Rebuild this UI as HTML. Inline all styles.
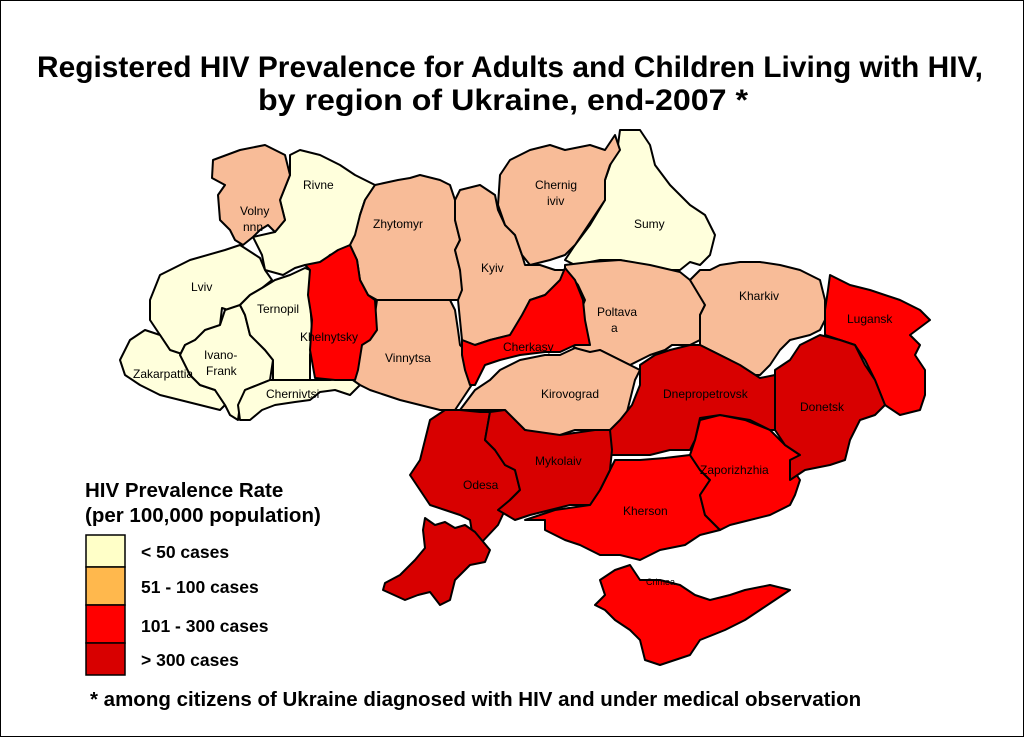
<!DOCTYPE html>
<html><head><meta charset="utf-8"><style>
html,body{margin:0;padding:0;background:#fff}
body{width:1024px;height:737px;overflow:hidden;position:relative;font-family:"Liberation Sans",Arial,sans-serif}
.frame{position:absolute;left:0;top:0;width:1022px;height:735px;border:1px solid #000}
svg{position:absolute;left:0;top:0}
</style></head><body>
<div class="frame"></div>
<svg width="1024" height="737" viewBox="0 0 1024 737" font-family="Liberation Sans, Arial, sans-serif">
<text x="510" y="77" text-anchor="middle" font-size="30" font-weight="bold" textLength="946" lengthAdjust="spacingAndGlyphs">Registered HIV Prevalence for Adults and Children Living with HIV,</text>
<text x="503" y="110" text-anchor="middle" font-size="30" font-weight="bold" textLength="490" lengthAdjust="spacingAndGlyphs">by region of Ukraine, end-2007 *</text>
<g stroke="#000" stroke-width="2" stroke-linejoin="round">
<g fill="#FFFFDC">
<polygon points="290,155 300,150 320,155 340,165 355,175 375,185 365,200 360,215 355,245 345,250 330,255 320,265 305,265 295,268 283,275 265,270 262,255 253,237 275,232 285,220 280,200 290,175"/>
<polygon points="150,300 160,275 190,260 225,250 240,245 260,258 265,270 272,280 262,288 250,295 240,305 228,310 222,308 220,325 210,330 195,340 185,345 180,355 170,350 160,335 150,320"/>
<polygon points="120,360 130,340 145,330 160,335 170,350 185,355 190,375 200,385 215,390 225,405 220,410 200,405 180,400 160,395 140,385 125,375"/>
<polygon points="185,345 195,340 205,330 220,325 225,310 240,305 245,315 250,335 265,350 273,360 270,380 245,390 240,405 238,420 230,415 225,405 215,390 200,385 190,375 180,355"/>
<polygon points="262,288 275,280 290,275 305,268 310,270 313,280 310,300 312,330 310,355 310,380 290,380 273,380 273,360 265,350 250,335 245,315 240,305 250,295"/>
<polygon points="273,380 310,380 330,380 350,378 360,385 350,395 335,390 320,392 310,400 295,402 275,405 262,410 250,420 240,420 238,405 245,390 270,380"/>
<polygon points="620,130 640,130 650,145 655,165 670,185 690,205 705,215 715,235 710,255 700,265 690,262 680,270 665,270 645,265 620,260 600,260 590,262 575,265 565,260 575,245 590,225 605,200 605,180 612,160 618,145"/>
</g>
<g fill="#F8BC98">
<polygon points="213,160 240,150 265,145 285,155 290,175 280,200 285,220 275,232 268,225 260,230 253,237 243,245 235,240 230,230 220,220 218,195 225,185 212,178"/>
<polygon points="360,215 365,200 375,185 398,180 410,178 420,175 440,180 450,185 455,200 455,220 460,240 455,250 460,270 465,285 462,300 450,300 440,305 425,300 405,300 385,305 377,300 368,295 360,280 357,260 350,245 355,235"/>
<polygon points="377,300 405,300 440,300 450,300 455,310 458,330 460,345 470,355 475,380 465,395 455,410 440,410 420,405 400,400 385,395 370,390 360,385 350,378 355,375 358,350 362,345 372,335"/>
<polygon points="455,200 460,190 480,185 495,195 498,210 505,225 515,235 522,255 525,265 540,265 555,270 565,270 560,285 545,295 530,300 520,320 510,335 490,340 475,345 462,340 460,320 458,300 462,290 460,270 455,250 460,240 455,220"/>
<polygon points="500,175 510,160 530,150 550,145 565,150 590,145 605,150 615,135 620,150 610,165 605,180 605,200 595,215 585,230 575,245 565,255 550,260 530,265 522,255 515,235 505,225 498,205"/>
<polygon points="565,265 590,262 620,260 650,265 680,272 690,280 700,295 705,305 700,315 700,340 690,345 672,345 665,350 650,355 640,360 630,365 610,355 600,350 590,355 570,345 575,325 585,300 578,285 570,275 565,268"/>
<polygon points="690,280 700,270 710,270 720,265 740,262 760,262 780,265 800,270 820,280 825,300 825,320 820,330 810,335 790,340 780,350 770,365 760,375 750,375 730,360 720,355 710,350 700,345 700,315 705,305"/>
<polygon points="460,410 475,390 490,380 500,370 520,360 545,355 560,355 575,348 590,352 600,350 610,355 630,365 640,370 635,380 630,400 625,420 610,430 590,430 575,430 560,435 545,435 525,430 505,410 480,410"/>
</g>
<g fill="#FF0000">
<polygon points="305,265 320,262 338,250 350,245 357,260 360,280 368,295 375,300 377,330 370,340 362,345 358,370 355,380 335,380 315,378 310,350 312,320 308,295 310,270"/>
<polygon points="462,340 475,345 490,340 510,335 522,315 530,300 545,295 560,280 565,268 575,280 583,300 585,320 590,345 575,345 560,352 545,352 520,355 500,360 485,365 475,385 470,385 465,370 462,355"/>
<polygon points="830,275 850,285 870,290 900,300 920,310 930,320 910,335 920,345 915,355 925,370 925,395 920,410 900,415 885,405 875,380 865,360 855,345 840,340 825,335 825,310 828,290"/>
<polygon points="555,510 590,505 600,490 615,460 640,460 665,458 690,455 700,470 710,480 700,495 705,515 720,530 700,535 685,545 660,550 640,560 620,555 600,555 580,545 565,540 545,530 545,520 525,520"/>
<polygon points="695,440 700,420 720,415 745,420 770,430 785,445 800,455 790,465 800,480 795,495 790,505 770,515 750,520 730,525 720,530 705,515 700,495 710,480 700,470 690,455"/>
<polygon points="600,580 615,570 630,565 640,580 660,580 680,585 695,595 710,600 730,595 745,590 770,585 790,590 775,600 760,610 745,620 725,630 700,640 690,655 675,660 660,665 645,660 640,640 630,630 615,620 605,610 595,605 605,595"/>
</g>
<g fill="#D80000">
<polygon points="775,370 790,360 800,345 820,335 840,340 855,345 865,365 875,380 885,405 875,415 860,420 850,440 845,460 830,465 805,470 790,480 790,460 800,455 785,445 775,430 775,400"/>
<polygon points="640,365 655,355 670,350 690,345 700,345 720,355 740,365 760,378 775,375 775,400 775,430 770,430 750,420 720,415 700,418 695,440 690,450 670,450 650,455 630,455 610,455 605,450 610,430 620,420 632,405 640,385"/>
<polygon points="430,420 445,410 460,410 480,412 490,412 485,440 495,450 505,465 515,470 520,490 510,500 505,510 498,525 482,542 472,532 470,520 460,515 445,510 430,505 420,490 410,475 420,460 425,440"/>
<polygon points="425,518 435,525 445,522 455,528 465,525 475,532 490,550 485,562 470,565 460,575 455,580 450,600 440,605 430,592 418,595 405,600 383,590 385,583 400,575 415,560 425,548 423,530"/>
<polygon points="490,412 505,410 525,430 560,435 595,430 610,430 612,450 610,470 600,490 590,505 570,505 550,510 530,515 515,520 498,510 510,500 520,490 515,470 505,465 495,450 485,440"/>
</g>
</g>
<g font-size="12" fill="#000">
<text x="240" y="215">Volny</text><text x="243" y="231">nnn</text>
<text x="303" y="189">Rivne</text>
<text x="373" y="228">Zhytomyr</text>
<text x="535" y="189">Chernig</text><text x="547" y="205">iviv</text>
<text x="634" y="228">Sumy</text>
<text x="191" y="291">Lviv</text>
<text x="257" y="313">Ternopil</text>
<text x="300" y="341">Khelnytsky</text>
<text x="481" y="272">Kyiv</text>
<text x="597" y="316">Poltava</text><text x="611" y="332">a</text>
<text x="739" y="300">Kharkiv</text>
<text x="847" y="323">Lugansk</text>
<text x="204" y="359">Ivano-</text><text x="206" y="375">Frank</text>
<text x="133" y="378">Zakarpattia</text>
<text x="385" y="362">Vinnytsa</text>
<text x="503" y="351">Cherkasy</text>
<text x="541" y="398">Kirovograd</text>
<text x="663" y="398">Dnepropetrovsk</text>
<text x="800" y="411">Donetsk</text>
<text x="266" y="398">Chernivtsi</text>
<text x="535" y="465">Mykolaiv</text>
<text x="463" y="489">Odesa</text>
<text x="700" y="474">Zaporizhzhia</text>
<text x="623" y="515">Kherson</text>
<text x="646" y="585" font-size="9">Crimea</text>
</g>
<text x="85" y="497" font-size="20.5" font-weight="bold">HIV Prevalence Rate</text>
<text x="85" y="522" font-size="20.5" font-weight="bold">(per 100,000 population)</text>
<g stroke="#000" stroke-width="1.5">
<rect x="86" y="535" width="39" height="32" fill="#FFFFC8"/>
<rect x="86" y="567" width="39" height="38" fill="#FFB84D"/>
<rect x="86" y="605" width="39" height="38" fill="#FF0000"/>
<rect x="86" y="643" width="39" height="32" fill="#D80000"/>
</g>
<g font-size="17.5" font-weight="bold">
<text x="141" y="558">&lt; 50 cases</text>
<text x="141" y="593">51 - 100 cases</text>
<text x="141" y="632">101 - 300 cases</text>
<text x="141" y="666">&gt; 300 cases</text>
</g>
<text x="90" y="706" font-size="20.5" font-weight="bold">* among citizens of Ukraine diagnosed with HIV and under medical observation</text>
</svg>
</body></html>
